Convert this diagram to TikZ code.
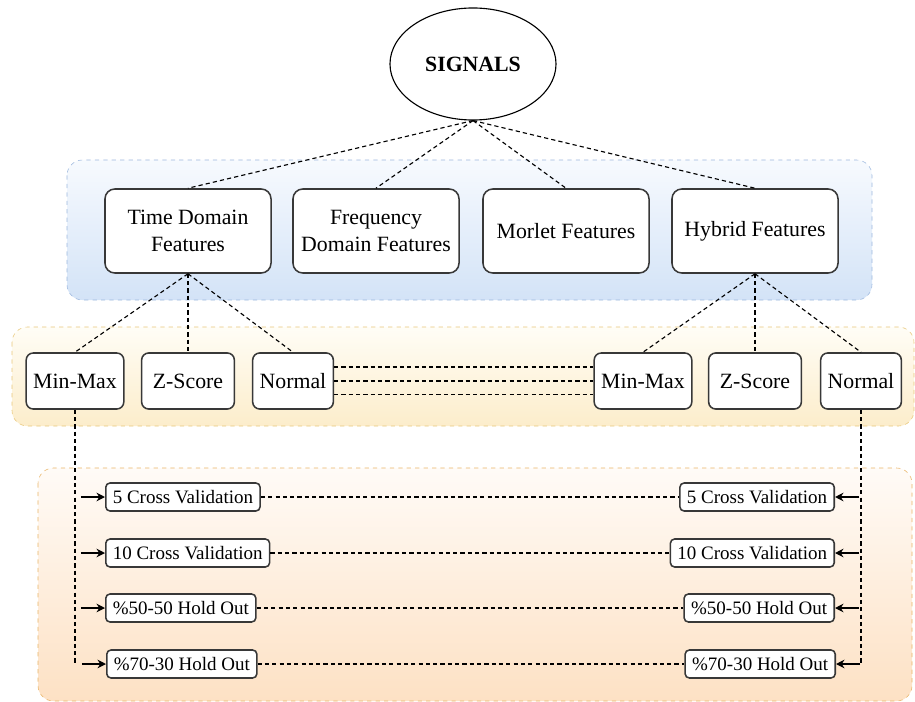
\documentclass[tikz,border=0pt]{standalone}
\usepackage{fontspec}
\setmainfont{Liberation Serif}
\usetikzlibrary{shapes.geometric}
\usetikzlibrary{arrows.meta}
\usetikzlibrary{positioning}
\definecolor{boxline}{HTML}{383838}
\definecolor{bluetop}{HTML}{F7FAFE}
\definecolor{bluebot}{HTML}{D3E3F7}
\definecolor{blueedge}{HTML}{9DB8DE}
\definecolor{yeltop}{HTML}{FFFDF6}
\definecolor{yelbot}{HTML}{FCEDCB}
\definecolor{yeledge}{HTML}{E8C77A}
\definecolor{orgtop}{HTML}{FFFBF7}
\definecolor{orgbot}{HTML}{FDE1C4}
\definecolor{orgedge}{HTML}{E9B467}
\tikzset{
  source/.style={ellipse, draw, thick, minimum width=4.15cm, minimum height=2.8cm, font=\bfseries\fontsize{15.5}{18}\selectfont},
  feature/.style={rectangle, draw=boxline, line width=1.1pt, fill=white, rounded corners=7pt, minimum width=4.15cm, minimum height=2.1cm, align=center, font=\fontsize{15.5}{19}\selectfont},
  norm/.style={rectangle, draw=boxline, line width=1.1pt, fill=white, rounded corners=5pt, minimum height=1.4cm, inner xsep=5pt, font=\fontsize{15.5}{18}\selectfont},
  valid/.style={rectangle, draw=boxline, line width=1.1pt, fill=white, rounded corners=3pt, minimum height=0.7cm, inner xsep=5pt, inner ysep=2pt, font=\fontsize{13.5}{16}\selectfont},
  panel/.style={rounded corners=11pt, dashed, thin},
  link/.style={draw, dashed, dash pattern=on 3pt off 2.2pt, line width=0.8pt},
  tip/.style={draw, -{Stealth[length=6pt,width=6pt]}, line width=0.9pt}
  }

\begin{document}
\begin{tikzpicture}[x=0.025cm, y=-0.025cm]
	\useasboundingbox (0,0) rectangle (915,702);
	% Frame
	\draw [panel, draw=blueedge, top color=bluetop, bottom color=bluebot] (67,160) rectangle (872,300);
	\draw [panel, draw=yeledge, top color=yeltop, bottom color=yelbot] (12,327) rectangle (914,426);
	\draw [panel, draw=orgedge, top color=orgtop, bottom color=orgbot] (38,468) rectangle (912,701);

	% Nodes
	\node[source] (signals) at (473,64) {SIGNALS};

	\node[feature] (time) at (188,231) {Time Domain\\Features};
	\node[feature] (freq) at (376,231) {Frequency\\Domain Features};
	\node[feature] (morlet) at (566,231) {Morlet Features};
	\node[feature] (hybrid) at (755,231) {Hybrid Features};

	\node[norm] (minmaxL) at (75,381) {Min-Max};
	\node[norm, inner xsep=8pt] (zscoreL) at (188,381) {Z-Score};
	\node[norm] (normalL) at (293,381) {Normal};
	\node[norm] (minmaxR) at (643,381) {Min-Max};
	\node[norm, inner xsep=8pt] (zscoreR) at (755,381) {Z-Score};
	\node[norm] (normalR) at (861,381) {Normal};

	\node[valid, anchor=west] (cvfiveL) at (105,497) {5 Cross Validation};
	\node[valid, anchor=west] (cvtenL) at (105,553) {10 Cross Validation};
	\node[valid, anchor=west] (holdfiftyL) at (105,608) {\%50-50 Hold Out};
	\node[valid, anchor=west] (holdseventyL) at (106,664) {\%70-30 Hold Out};
	\node[valid, anchor=east] (cvfiveR) at (835,497) {5 Cross Validation};
	\node[valid, anchor=east] (cvtenR) at (835,553) {10 Cross Validation};
	\node[valid, anchor=east] (holdfiftyR) at (835,608) {\%50-50 Hold Out};
	\node[valid, anchor=east] (holdseventyR) at (836,664) {\%70-30 Hold Out};

	% Links
	\foreach \f in {time, freq, morlet, hybrid}
		\draw [link] (signals.south) -- (\f.north);
	\foreach \n in {minmaxL, zscoreL, normalL}
		\draw [link] (time.south) -- (\n.north);
	\foreach \n in {minmaxR, zscoreR, normalR}
		\draw [link] (hybrid.south) -- (\n.north);
	\foreach \dy in {0.35cm, 0cm, -0.33cm}
		\draw [link] ([yshift=\dy]normalL.east) -- ([yshift=\dy]minmaxR.west);

	% Arrows to validation
	\draw [link] (minmaxL.south) -- (minmaxL.south |- holdseventyL.west);
	\draw [link] (normalR.south) -- (normalR.south |- holdseventyR.east);
	\foreach \v in {cvfiveL, cvtenL, holdfiftyL, holdseventyL}
		\draw [tip] ([xshift=-0.6cm]\v.west) -- (\v.west);
	\foreach \v in {cvfiveR, cvtenR, holdfiftyR, holdseventyR}
		\draw [tip] ([xshift=0.6cm]\v.east) -- (\v.east);
	\draw [link] (cvfiveL) -- (cvfiveR);
	\draw [link] (cvtenL) -- (cvtenR);
	\draw [link] (holdfiftyL) -- (holdfiftyR);
	\draw [link] (holdseventyL) -- (holdseventyR);

\end{tikzpicture}
\end{document}
